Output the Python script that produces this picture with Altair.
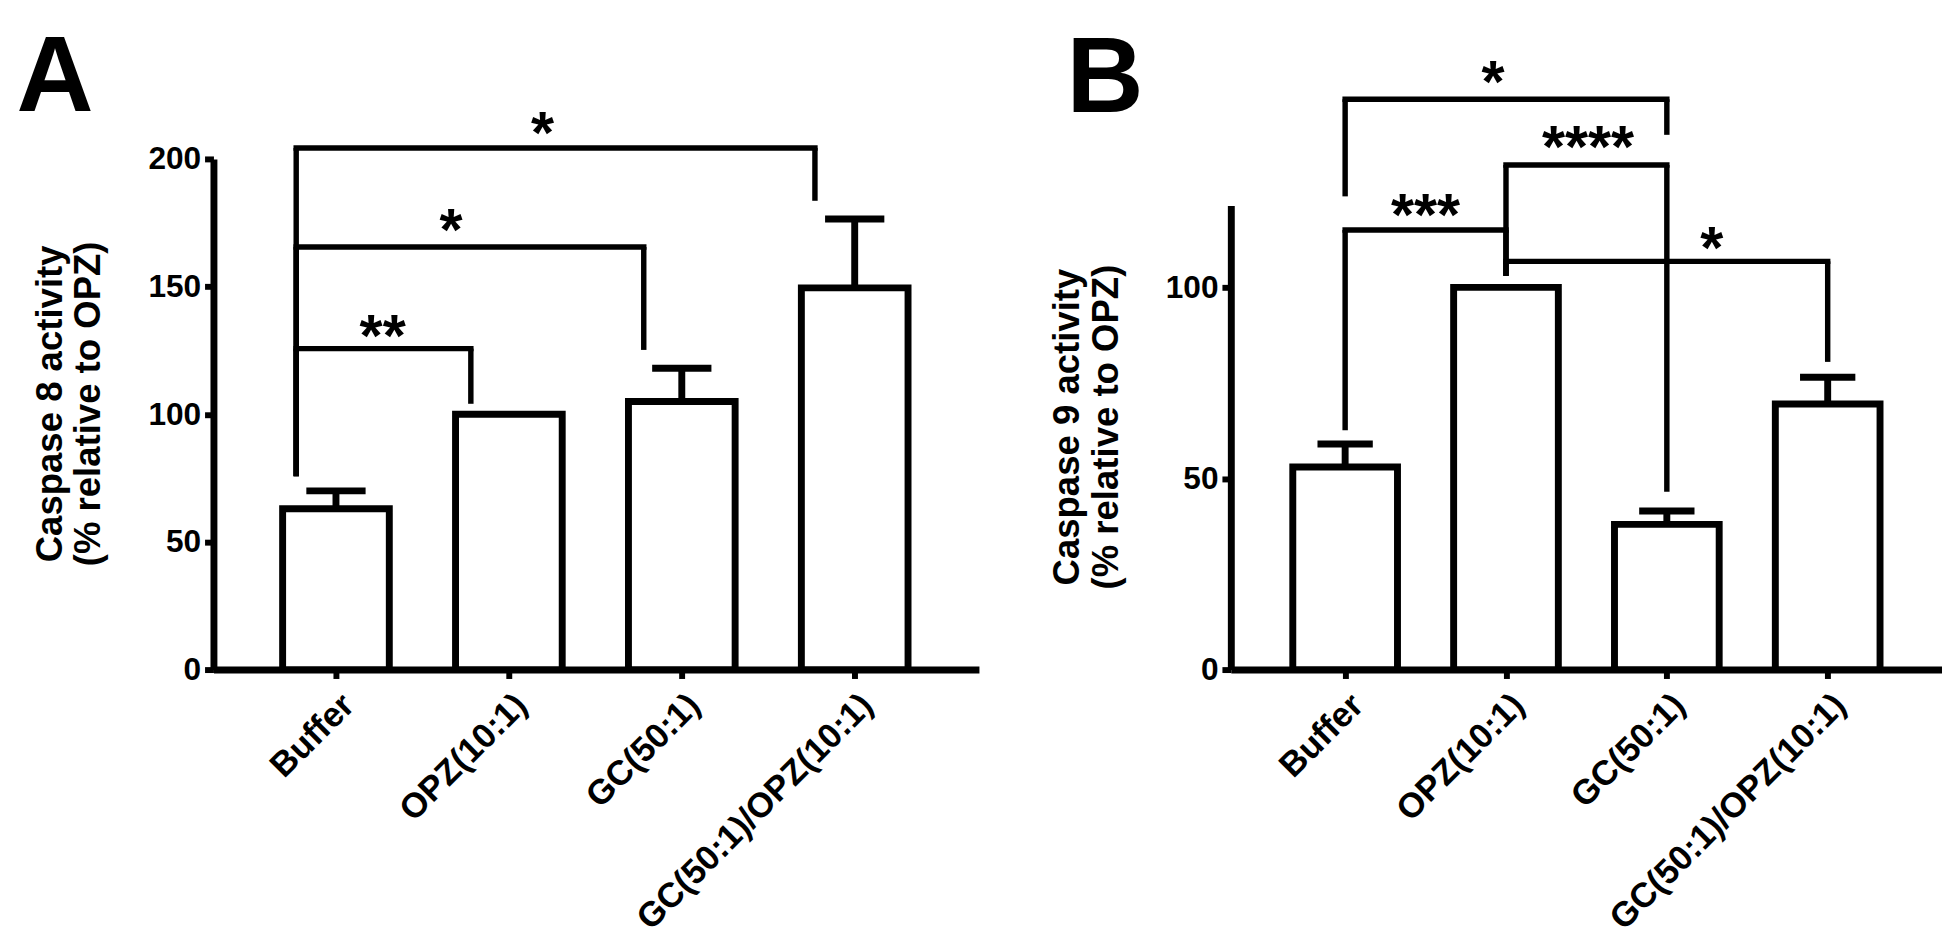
import json
import altair as alt
import pandas as pd

FONT = "Liberation Sans"

categories = ["Buffer", "OPZ(10:1)", "GC(50:1)", "GC(50:1)/OPZ(10:1)"]
positions = [0, 1, 2, 3]

# ---- Panel A: Caspase 8 ----
a_mean = [63, 100, 105, 149.5]
a_err_pos = [0, 2, 3]
a_err_top = [70, 118, 176.5]
a_yticks = [0, 50, 100, 150, 200]
a_title = ["Caspase 8 activity", "(% relative to OPZ)"]
a_br_x1 = [-0.23, -0.23, -0.23]
a_br_x2 = [0.78, 1.78, 2.77]
a_br_level = [125.7, 165.5, 204.3]
a_br_bottom1 = [75.7, 75.7, 75.7]
a_br_bottom2 = [104.1, 125.2, 183.6]
a_star = ["**", "*", "*"]
a_star_x = [0.27, 0.665, 1.195]
a_star_y = [133.5, 175.0, 213.0]

# ---- Panel B: Caspase 9 ----
b_mean = [53, 100, 38, 69.5]
b_err_pos = [0, 2, 3]
b_err_top = [59, 41.5, 76.5]
b_yticks = [0, 50, 100]
b_title = ["Caspase 9 activity", "(% relative to OPZ)"]
b_br_x1 = [0, 0, 1, 1]
b_br_x2 = [2, 1, 2, 3]
b_br_level = [149.2, 115.0, 132.0, 106.8]
b_br_bottom1 = [123.8, 62.6, 103.0, 103.0]
b_br_bottom2 = [139.9, 103.0, 46.5, 80.5]
b_star = ["*", "***", "****", "*"]
b_star_x = [0.92, 0.5, 1.51, 2.28]
b_star_y = [155.6, 120.9, 138.8, 112.2]

label_expr = json.dumps(categories) + "[datum.value]"


def panel(letter, letter_x, letter_y, means, err_pos, err_top, yticks, title, title_y,
          br_x1, br_x2, br_level, br_b1, br_b2, stars, star_x, star_y,
          x_domain, y_scale, width, bar_size, cap_size):
    xs = alt.Scale(domain=x_domain, nice=False, zero=False)
    bars_df = pd.DataFrame({"x": positions, "mean": means})
    err_df = pd.DataFrame({"x": err_pos, "mean": [means[i] for i in err_pos], "top": err_top})
    hseg = pd.DataFrame({"x1": br_x1, "x2": br_x2, "y": br_level})
    legs = pd.DataFrame({
        "x": br_x1 + br_x2,
        "ytop": br_level + br_level,
        "ybot": br_b1 + br_b2,
    })
    star_df = pd.DataFrame({"x": star_x, "y": star_y, "t": stars})
    letter_df = pd.DataFrame({"x": [letter_x], "y": [letter_y], "t": [letter]})

    x_axis = alt.Axis(
        values=positions, labelExpr=label_expr, labelAngle=-45, labelAlign="right",
        labelBaseline="top", labelFontSize=35, labelFontWeight="bold", labelFont=FONT,
        labelPadding=9, tickSize=9, tickWidth=6, tickColor="black", domainWidth=7,
        domainColor="black", grid=False, title=None, labelOverlap=False,
        labelFlush=False, labelBound=False, labelColor="black", labelLimit=1000,
    )
    y_axis = alt.Axis(
        values=yticks, tickSize=9, tickWidth=6, tickColor="black", domainWidth=7,
        domainColor="black", labelFontSize=32, labelFontWeight="bold", labelFont=FONT,
        labelPadding=4, labelColor="black", grid=False, title=title, titleFont=FONT,
        titleFontSize=37, titleFontWeight="bold", titleLineHeight=39, titleX=-146,
        titleY=title_y, titleColor="black", titleLimit=1000,
    )

    bars = alt.Chart(bars_df).mark_bar(
        size=bar_size, fill="white", stroke="black", strokeWidth=7, orient="vertical"
    ).encode(
        x=alt.X("x:Q", scale=xs, axis=x_axis),
        y=alt.Y("mean:Q", scale=y_scale, axis=y_axis),
    )
    err = alt.Chart(err_df).mark_rule(strokeWidth=7, color="black").encode(
        x="x:Q", y="mean:Q", y2="top:Q"
    )
    caps = alt.Chart(err_df).mark_tick(
        orient="horizontal", size=cap_size, thickness=7, color="black", opacity=1
    ).encode(x="x:Q", y="top:Q")
    hl = alt.Chart(hseg).mark_rule(strokeWidth=5.5, color="black", strokeCap="square").encode(
        x="x1:Q", x2="x2:Q", y="y:Q"
    )
    vl = alt.Chart(legs).mark_rule(strokeWidth=5.5, color="black").encode(
        x="x:Q", y="ytop:Q", y2="ybot:Q"
    )
    st = alt.Chart(star_df).mark_text(
        font=FONT, fontSize=60, fontWeight="bold", align="center", baseline="alphabetic",
        dy=28, color="black"
    ).encode(x="x:Q", y="y:Q", text="t:N")
    let = alt.Chart(letter_df).mark_text(
        font=FONT, fontSize=108, fontWeight="bold", align="left", baseline="alphabetic",
        color="black"
    ).encode(x="x:Q", y="y:Q", text="t:N")
    return alt.layer(bars, err, caps, hl, vl, st, let).properties(width=width, height=517)


chart_a = panel(
    "A", -1.847, 218.6, a_mean, a_err_pos, a_err_top, a_yticks, a_title, 247.5,
    a_br_x1, a_br_x2, a_br_level, a_br_bottom1, a_br_bottom2, a_star, a_star_x, a_star_y,
    [-0.68, 3.69], alt.Scale(domain=[0, 200], nice=False), 775, 108, 60,
)
chart_b = panel(
    "B", -1.732, 146.0, b_mean, b_err_pos, b_err_top, b_yticks, b_title, 271,
    b_br_x1, b_br_x2, b_br_level, b_br_bottom1, b_br_bottom2, b_star, b_star_x, b_star_y,
    [-0.68, 3.68], alt.Scale(domain=[0, 121.4], range=[517, 47.2], nice=False), 720, 106, 56,
)

chart = alt.hconcat(chart_a, chart_b, spacing=70).properties(
    padding={"left": 8, "top": 12, "right": 0, "bottom": 0}
).configure(font=FONT).configure_view(stroke=None)

chart.save("out.html", embed_options={"renderer": "svg", "actions": False})
